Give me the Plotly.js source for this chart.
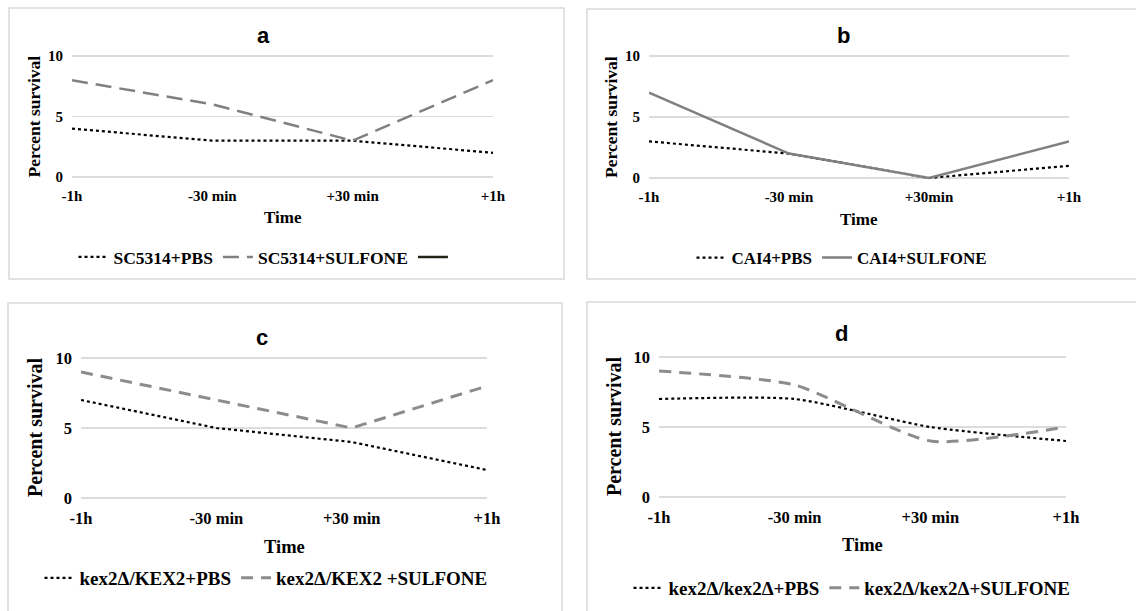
<!DOCTYPE html>
<html>
<head>
<meta charset="utf-8">
<script src="https://cdn.plot.ly/plotly-3.0.1.min.js"></script>
<style>html,body{margin:0;padding:0;background:#fff}#chart{width:1136px;height:611px}</style>
</head>
<body>
<div id="chart"></div>
<script>
// ---- data ----
const timesA = ['-1h', '-30 min', '+30 min', '+1h'];
const timesB = ['-1h', '-30 min', '+30min', '+1h'];
const timesC = ['-1h', '-30 min', '+30 min', '+1h'];
const timesD = ['-1h', '-30 min', '+30 min', '+1h'];

const aPBS = [4, 3, 3, 2];
const aSulfone = [8, 6, 3, 8];
const aThird = [null, null, null, null];
const bPBS = [3, 2, 0, 1];
const bSulfone = [7, 2, 0, 3];
const cPBS = [7, 5, 4, 2];
const cSulfone = [9, 7, 5, 8];
const dPBS = [7, 7, 5, 4];
const dSulfone = [9, 8, 4, 5];

const namesA = ['SC5314+PBS', 'SC5314+SULFONE', ' '];
const namesB = ['CAI4+PBS', 'CAI4+SULFONE'];
const namesC = ['kex2Δ/KEX2+PBS', 'kex2Δ/KEX2 +SULFONE'];
const namesD = ['kex2Δ/kex2Δ+PBS', 'kex2Δ/kex2Δ+SULFONE'];
const panelTitles = ['a', 'b', 'c', 'd'];

// ---- layout helpers ----
const W = 1136, H = 611;
const px = x => x / W;
const py = y => 1 - y / H;
const serif = 'Liberation Serif';
const sans = 'Liberation Sans';

const dotLine = {color: '#000', width: 2.2, dash: 'dot'};
const traces = [
  {x: timesA, y: aPBS, name: namesA[0], type: 'scatter', mode: 'lines', line: dotLine, xaxis: 'x', yaxis: 'y', legend: 'legend'},
  {x: timesA, y: aSulfone, name: namesA[1], type: 'scatter', mode: 'lines', line: {color: '#808080', width: 2.5, dash: '16px,8px'}, xaxis: 'x', yaxis: 'y', legend: 'legend'},
  {x: timesA, y: aThird, name: namesA[2], type: 'scatter', mode: 'lines', line: {color: '#232318', width: 2.5}, xaxis: 'x', yaxis: 'y', legend: 'legend', showlegend: true},

  {x: timesB, y: bPBS, name: namesB[0], type: 'scatter', mode: 'lines', line: dotLine, xaxis: 'x2', yaxis: 'y2', legend: 'legend2'},
  {x: timesB, y: bSulfone, name: namesB[1], type: 'scatter', mode: 'lines', line: {color: '#808080', width: 2.5}, xaxis: 'x2', yaxis: 'y2', legend: 'legend2'},

  {x: timesC, y: cPBS, name: namesC[0], type: 'scatter', mode: 'lines', line: dotLine, xaxis: 'x3', yaxis: 'y3', legend: 'legend3'},
  {x: timesC, y: cSulfone, name: namesC[1], type: 'scatter', mode: 'lines', line: {color: '#8c8c8c', width: 3, dash: '12px,8px'}, xaxis: 'x3', yaxis: 'y3', legend: 'legend3'},

  {x: timesD, y: dPBS, name: namesD[0], type: 'scatter', mode: 'lines', line: Object.assign({}, dotLine, {shape: 'spline', smoothing: 0.6}), xaxis: 'x4', yaxis: 'y4', legend: 'legend4'},
  {x: timesD, y: dSulfone, name: namesD[1], type: 'scatter', mode: 'lines', line: {color: '#8c8c8c', width: 3, dash: '12px,8px', shape: 'spline', smoothing: 0.6}, xaxis: 'x4', yaxis: 'y4', legend: 'legend4'}
];

// panel geometry (pixels): plot left, right, top(10), bottom(0), plus font sizes
const panels = [
  {l: 72, r: 493, t: 56, b: 177, titleX: 263, titleY: 35, timeOff: 41, ytX: 33, legX: 268, legY: 257, fTick: 15, fYt: 17.5, fTime: 17, fLeg: 17.5},
  {l: 649, r: 1069, t: 56, b: 178, titleX: 843, titleY: 36, timeOff: 41, ytX: 611, legX: 842, legY: 258, fTick: 15, fYt: 17.5, fTime: 17, fLeg: 17},
  {l: 81, r: 487, t: 358, b: 498, titleX: 262, titleY: 337, timeOff: 49, ytX: 35, legX: 266, legY: 578, fTick: 16.5, fYt: 20, fTime: 18.5, fLeg: 19},
  {l: 659, r: 1066, t: 357, b: 497, titleX: 841, titleY: 333, timeOff: 48, ytX: 614, legX: 852, legY: 588, fTick: 16.5, fYt: 20, fTime: 18.5, fLeg: 19}
];

const layout = {
  width: W, height: H,
  margin: {l: 0, r: 0, t: 0, b: 0},
  paper_bgcolor: '#fff', plot_bgcolor: 'rgba(0,0,0,0)',
  showlegend: true,
  annotations: [],
  shapes: [
    {type: 'rect', xref: 'paper', yref: 'paper', x0: px(9), x1: px(564), y0: py(279), y1: py(8), line: {color: '#d9d9d9', width: 1.5}},
    {type: 'rect', xref: 'paper', yref: 'paper', x0: px(587), x1: px(1145), y0: py(279), y1: py(9), line: {color: '#d9d9d9', width: 1.5}},
    {type: 'rect', xref: 'paper', yref: 'paper', x0: px(8), x1: px(562), y0: py(625), y1: py(303), line: {color: '#d9d9d9', width: 1.5}},
    {type: 'rect', xref: 'paper', yref: 'paper', x0: px(587), x1: px(1145), y0: py(625), y1: py(302), line: {color: '#d9d9d9', width: 1.5}}
  ]
};

const pad = 0.15;
panels.forEach((p, i) => {
  const s = i === 0 ? '' : String(i + 1);
  const ppu = (p.b - p.t) / 10;
  const tickFont = {family: serif, size: p.fTick, color: '#000', weight: 'bold'};
  layout['xaxis' + s] = {
    domain: [px(p.l), px(p.r)],
    anchor: 'y' + s,
    type: 'category',
    range: [0, 3],
    showgrid: false, zeroline: false, showline: false,
    ticks: '', ticklabelstandoff: 6,
    tickfont: tickFont,
    fixedrange: true
  };
  layout['yaxis' + s] = {
    domain: [py(p.b + pad * ppu), py(p.t - pad * ppu)],
    anchor: 'x' + s,
    range: [-pad, 10 + pad],
    tickvals: [0, 5, 10],
    showgrid: true, gridcolor: '#dcdcdc', gridwidth: 1.3,
    zeroline: false, showline: false,
    ticks: '', ticklabelstandoff: 8,
    tickfont: tickFont,
    fixedrange: true
  };
  layout.annotations.push({
    text: panelTitles[i], xref: 'paper', yref: 'paper',
    x: px(p.titleX), y: py(p.titleY), xanchor: 'center', yanchor: 'middle',
    showarrow: false, font: {family: sans, size: 22, color: '#000', weight: 'bold'}
  });
  layout.annotations.push({
    text: 'Time', xref: 'paper', yref: 'paper',
    x: px((p.l + p.r) / 2), y: py(p.b + p.timeOff), xanchor: 'center', yanchor: 'middle',
    showarrow: false, font: {family: serif, size: p.fTime, color: '#000', weight: 'bold'}
  });
  layout.annotations.push({
    text: 'Percent survival', xref: 'paper', yref: 'paper', textangle: -90,
    x: px(p.ytX), y: py((p.t + p.b) / 2), xanchor: 'center', yanchor: 'middle',
    showarrow: false, font: {family: serif, size: p.fYt, color: '#000', weight: 'bold'}
  });
  layout['legend' + s] = {
    orientation: 'h',
    x: px(p.legX), y: py(p.legY), xanchor: 'center', yanchor: 'middle',
    font: {family: serif, size: p.fLeg, color: '#000', weight: 'bold'},
    bgcolor: 'rgba(0,0,0,0)', itemwidth: 30, tracegroupgap: 0,
    itemclick: false, itemdoubleclick: false
  };
});

Plotly.newPlot('chart', traces, layout, {displayModeBar: false, staticPlot: true});
</script>
</body>
</html>
